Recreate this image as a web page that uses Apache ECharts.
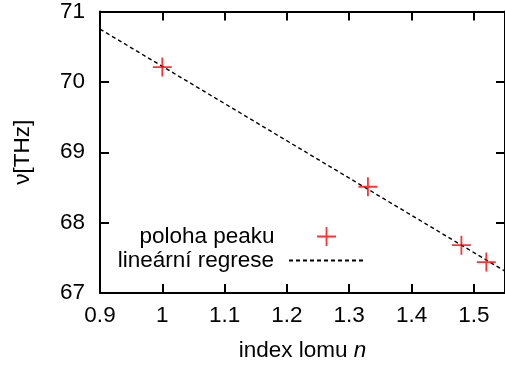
<!DOCTYPE html>
<html>
<head>
<meta charset="utf-8">
<script src="https://cdn.jsdelivr.net/npm/echarts@6/dist/echarts.min.js"></script>
<style>
html,body{margin:0;padding:0;background:#fff;}
#chart{width:505px;height:367px;}
</style>
</head>
<body>
<div id="chart"></div>
<script>
// measured points: refractive index n vs peak frequency (THz)
var indexN = [1.0, 1.33, 1.48, 1.52];
var peakTHz = [70.21, 68.51, 67.68, 67.44];
// linear regression line end points
var regN = [0.9, 1.55];
var regTHz = [70.75, 67.31];
// axis ticks
var xTicks = {min: 0.9, max: 1.55, step: 0.1};
var yTicks = {min: 67, max: 71, step: 1};
var seriesNames = ['poloha peaku', 'lineární regrese'];

var FONT = '"Liberation Sans", Arial, sans-serif';
var FS = 22.5;
var plusPath = 'path://M0,8.6 H8.6 V0 H10.4 V8.6 H19 V10.4 H10.4 V19 H8.6 V10.4 H0 Z';

var chart = echarts.init(document.getElementById('chart'), null, {renderer: 'canvas'});

function axisCommon(showLabels) {
  return {
    axisLine: {show: true, lineStyle: {color: '#000', width: 2}},
    axisTick: {show: true, inside: true, length: 9, lineStyle: {color: '#000', width: 2}},
    splitLine: {show: false},
    axisLabel: {show: showLabels, color: '#000', fontSize: FS, fontFamily: FONT}
  };
}

var xBottom = Object.assign({type: 'value', position: 'bottom', min: xTicks.min, max: xTicks.max, interval: xTicks.step,
  name: 'index lomu {i|n}', nameLocation: 'middle', nameGap: 46,
  nameTextStyle: {color: '#000', fontSize: FS, fontFamily: FONT,
    rich: {i: {fontStyle: 'italic', fontSize: FS, fontFamily: FONT, color: '#000'}}}}, axisCommon(true));
xBottom.axisLabel.margin = 11;
xBottom.axisLabel.showMaxLabel = false;
xBottom.axisLabel.formatter = function (v) { return String(Math.round(v * 100) / 100); };

var xTop = Object.assign({type: 'value', position: 'top', min: xTicks.min, max: xTicks.max, interval: xTicks.step}, axisCommon(false));

var yLeft = Object.assign({type: 'value', position: 'left', min: yTicks.min, max: yTicks.max, interval: yTicks.step,
  name: 'ν[THz]', nameLocation: 'middle', nameGap: 66, nameRotate: 90,
  nameTextStyle: {color: '#000', fontSize: FS, fontFamily: FONT}}, axisCommon(true));
yLeft.axisLabel.margin = 15;

var yRight = Object.assign({type: 'value', position: 'right', min: yTicks.min, max: yTicks.max, interval: yTicks.step}, axisCommon(false));

var legendBase = {
  orient: 'vertical', align: 'right',
  itemWidth: 74, itemHeight: 19, itemGap: 0,
  selectedMode: false, symbolKeepAspect: true,
  textStyle: {color: '#000', fontSize: FS, fontFamily: FONT, padding: [0, 10, 0, 0]}
};

chart.setOption({
  animation: false,
  backgroundColor: '#fff',
  grid: {left: 100, top: 11.5, width: 408, height: 282.5, containLabel: false},
  xAxis: [xBottom, xTop],
  yAxis: [yLeft, yRight],
  legend: [
    Object.assign({}, legendBase, {right: 164, top: 220, data: [{name: seriesNames[0], icon: plusPath}]}),
    Object.assign({}, legendBase, {right: 136, top: 244, itemStyle: {opacity: 0},
      data: [{name: seriesNames[1]}]})
  ],
  series: [
    {
      name: seriesNames[0], type: 'scatter', xAxisIndex: 0, yAxisIndex: 0,
      symbol: plusPath, symbolSize: 19, symbolKeepAspect: true,
      itemStyle: {color: '#ff0000'},
      data: indexN.map(function (n, i) { return [n, peakTHz[i]]; }),
      z: 3
    },
    {
      name: seriesNames[1], type: 'line', xAxisIndex: 0, yAxisIndex: 0,
      symbol: 'none', showSymbol: false,
      lineStyle: {color: '#000', width: 1.4, type: [4, 3]},
      itemStyle: {color: '#000'},
      data: regN.map(function (n, i) { return [n, regTHz[i]]; }),
      z: 2
    }
  ]
});
</script>
</body>
</html>
